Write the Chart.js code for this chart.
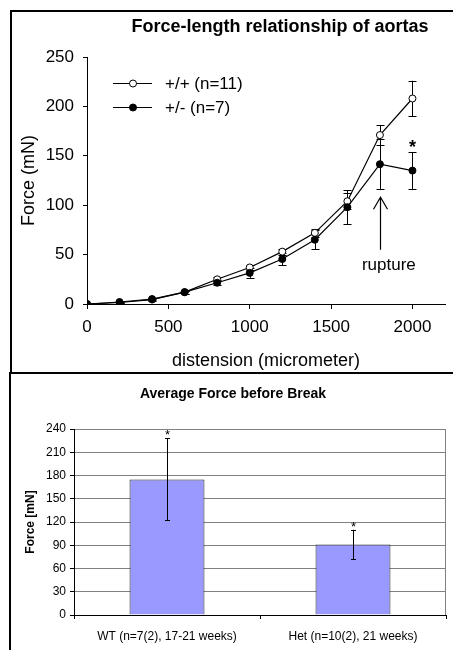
<!DOCTYPE html>
<html><head><meta charset="utf-8">
<script src="https://cdn.jsdelivr.net/npm/chart.js@4.4.1/dist/chart.umd.min.js"></script>
<style>
html,body{margin:0;padding:0;background:#fff;overflow:hidden}
#wrap{position:relative;width:453px;height:650px;overflow:hidden}
#f1{position:absolute;left:10px;top:10px;width:470px;height:360px;border:2px solid #000;border-right:none}
#f2{position:absolute;left:9px;top:372px;width:470px;height:300px;border-left:2px solid #000;border-top:2px solid #000}
#c1{position:absolute;left:0;top:0}
#c2{position:absolute;left:0;top:373px}
</style></head>
<body>
<div id="wrap">
<div id="f1"></div><div id="f2"></div>
<canvas id="c1" width="453" height="372"></canvas>
<canvas id="c2" width="453" height="277"></canvas>
</div>
<script>
// ---- Top chart data ----
const distances = [0, 200, 400, 600, 800, 1000, 1200, 1400, 1600, 1800, 2000];
const wtForce  = [0, 1.5, 4.5, 12, 25, 37, 53, 72, 104, 171, 208];
const wtErr    = [0, 0.5, 1, 1.5, 2, 2.5, 3, 4, 8, 10, 18];
const hetForce = [0, 2, 5, 12, 21.5, 31.5, 45.5, 65, 98, 141.5, 135];
const hetErr   = [0, 0.5, 1, 1.5, 2.5, 5, 6.5, 9.5, 17, 25, 18.5];
const xTickValues = [0, 500, 1000, 1500, 2000];
const wtLabel = '+/+ (n=11)';
const hetLabel = '+/- (n=7)';

// ---- Bottom chart data ----
const groups = ['WT (n=7(2), 17-21 weeks)', 'Het (n=10(2), 21 weeks)'];
const avgForce = [175, 91];
const avgErr = [53, 19];

const FA = "'Liberation Sans', Arial, Helvetica, sans-serif";

function errBars(ctx, xs, ys, xv, yv, ev, cap) {
  ctx.save();
  ctx.strokeStyle = '#000';
  ctx.lineWidth = 1;
  for (let i = 0; i < yv.length; i++) {
    if (!ev[i]) continue;
    const x = Math.round(xs(i, xv)) + 0.5;
    const yt = ys.getPixelForValue(yv[i] + ev[i]);
    const yb = ys.getPixelForValue(yv[i] - ev[i]);
    ctx.beginPath();
    ctx.moveTo(x, yt); ctx.lineTo(x, yb);
    ctx.moveTo(x - cap, Math.round(yt) + 0.5); ctx.lineTo(x + cap, Math.round(yt) + 0.5);
    ctx.moveTo(x - cap, Math.round(yb) + 0.5); ctx.lineTo(x + cap, Math.round(yb) + 0.5);
    ctx.stroke();
  }
  ctx.restore();
}

const topDecor = {
  id: 'topDecor',
  beforeDatasetsDraw(chart) {
    const xs = chart.scales.x, ys = chart.scales.y, ctx = chart.ctx;
    const px = (i, xv) => xs.getPixelForValue(xv[i]);
    errBars(ctx, px, ys, distances, wtForce, wtErr, 4);
    errBars(ctx, px, ys, distances, hetForce, hetErr, 4);
  },
  afterDatasetsDraw(chart) {
    const xs = chart.scales.x, ys = chart.scales.y, ctx = chart.ctx;
    ctx.save();
    // title
    ctx.fillStyle = '#000';
    ctx.font = 'bold 18px ' + FA;
    ctx.textAlign = 'center'; ctx.textBaseline = 'middle';
    ctx.fillText('Force-length relationship of aortas', 280, 27);
    // legend
    const items = [[wtLabel, '#fff', 83], [hetLabel, '#000', 107]];
    ctx.font = '17px ' + FA;
    ctx.textAlign = 'left';
    for (const [t, fill, y] of items) {
      ctx.strokeStyle = '#000'; ctx.lineWidth = 1;
      ctx.beginPath(); ctx.moveTo(113, y + 0.5); ctx.lineTo(152, y + 0.5); ctx.stroke();
      ctx.beginPath(); ctx.arc(133, y + 0.5, 3.5, 0, Math.PI * 2);
      ctx.fillStyle = fill; ctx.fill(); ctx.stroke();
      ctx.fillStyle = '#000';
      ctx.fillText(t, 165, y + 1);
    }
    // star over last het point
    const last = hetForce.length - 1;
    ctx.font = 'bold 18px ' + FA;
    ctx.textAlign = 'center'; ctx.textBaseline = 'alphabetic';
    ctx.fillText('*', xs.getPixelForValue(distances[last]), ys.getPixelForValue(hetForce[last] + hetErr[last]) + 1);
    // rupture arrow at 1800
    const ax = Math.round(xs.getPixelForValue(1800)) + 0.5;
    const yTop = ys.getPixelForValue(108), yBot = ys.getPixelForValue(55);
    ctx.lineWidth = 1.2;
    ctx.beginPath();
    ctx.moveTo(ax, yTop); ctx.lineTo(ax, yBot);
    ctx.moveTo(ax - 7, yTop + 12); ctx.lineTo(ax, yTop); ctx.lineTo(ax + 7, yTop + 12);
    ctx.stroke();
    ctx.font = '17px ' + FA;
    ctx.textBaseline = 'middle';
    ctx.fillText('rupture', xs.getPixelForValue(1855), ys.getPixelForValue(39));
    ctx.restore();
  }
};

new Chart(document.getElementById('c1'), {
  type: 'line',
  data: {
    datasets: [
      { label: hetLabel, data: distances.map((d, i) => ({ x: d, y: hetForce[i] })),
        borderColor: '#000', borderWidth: 1.2, pointRadius: 3.5, pointBackgroundColor: '#000',
        pointBorderColor: '#000', pointBorderWidth: 1, tension: 0 },
      { label: wtLabel, data: distances.map((d, i) => ({ x: d, y: wtForce[i] })),
        borderColor: '#000', borderWidth: 1.2, pointRadius: 3.5, pointBackgroundColor: '#fff',
        pointBorderColor: '#000', pointBorderWidth: 1, tension: 0 }
    ]
  },
  options: {
    responsive: false, animation: false, devicePixelRatio: 1,
    layout: { padding: { left: 0, right: 8, top: 57, bottom: 0 } },
    plugins: { legend: { display: false }, tooltip: { enabled: false } },
    scales: {
      x: {
        type: 'linear', min: 0, max: 2200,
        afterBuildTicks: s => { s.ticks = xTickValues.map(v => ({ value: v })); },
        afterFit: s => { s.height = 68; },
        grid: { drawOnChartArea: false, drawTicks: true, tickLength: 5, color: '#000', tickColor: '#000' },
        border: { color: '#000', width: 1 },
        ticks: { font: { family: FA, size: 17 }, color: '#000', padding: 8, maxRotation: 0, autoSkip: false,
          callback: v => String(v) },
        title: { display: true, text: 'distension (micrometer)', font: { family: FA, size: 18 }, color: '#000', padding: { top: 0, bottom: 0 } }
      },
      y: {
        min: 0, max: 250,
        afterFit: s => { s.width = 87; },
        grid: { drawOnChartArea: false, drawTicks: true, tickLength: 4, color: '#000', tickColor: '#000' },
        border: { color: '#000', width: 1 },
        ticks: { stepSize: 50, font: { family: FA, size: 17 }, color: '#000', padding: 9, callback: v => String(v) },
        title: { display: true, text: 'Force (mN)', font: { family: FA, size: 18 }, color: '#000', padding: { top: 18, bottom: 0 } }
      }
    }
  },
  plugins: [topDecor]
});

const botDecor = {
  id: 'botDecor',
  beforeDatasetsDraw(chart) {
    const ca = chart.chartArea, ctx = chart.ctx;
    ctx.save();
    ctx.strokeStyle = '#808080'; ctx.lineWidth = 1;
    ctx.beginPath();
    ctx.moveTo(Math.round(ca.right) - 0.5, ca.top); ctx.lineTo(Math.round(ca.right) - 0.5, ca.bottom);
    ctx.stroke();
    ctx.restore();
  },
  afterDatasetsDraw(chart) {
    const xs = chart.scales.x, ys = chart.scales.y, ctx = chart.ctx;
    const px = (i) => xs.getPixelForValue(i);
    errBars(ctx, px, ys, null, avgForce, avgErr, 2.5);
    ctx.save();
    ctx.fillStyle = '#000';
    ctx.font = 'bold 14px ' + FA;
    ctx.textAlign = 'center'; ctx.textBaseline = 'middle';
    ctx.fillText('Average Force before Break', 233, 21);
    ctx.font = '13px ' + FA;
    ctx.textBaseline = 'alphabetic';
    for (let i = 0; i < avgForce.length; i++) {
      ctx.fillText('*', px(i) + 0.5, ys.getPixelForValue(avgForce[i] + avgErr[i]) + 1);
    }
    ctx.restore();
  }
};

new Chart(document.getElementById('c2'), {
  type: 'bar',
  data: {
    labels: groups,
    datasets: [{ data: avgForce, backgroundColor: '#9999ff', borderColor: '#222', borderWidth: 1,
      categoryPercentage: 1, barPercentage: 0.403 }]
  },
  options: {
    responsive: false, animation: false, devicePixelRatio: 1,
    layout: { padding: { left: 0, right: 7, top: 56, bottom: 0 } },
    plugins: { legend: { display: false }, tooltip: { enabled: false } },
    scales: {
      x: {
        afterFit: s => { s.height = 35; },
        grid: { offset: true, drawOnChartArea: false, drawTicks: true, tickLength: 4, color: '#000', tickColor: '#000' },
        border: { color: '#000', width: 1 },
        ticks: { font: { family: FA, size: 12 }, color: '#000', padding: 10, maxRotation: 0, autoSkip: false }
      },
      y: {
        min: 0, max: 240,
        afterFit: s => { s.width = 74; },
        grid: { color: '#808080', tickColor: '#000', drawTicks: true, tickLength: 4 },
        border: { color: '#000', width: 1 },
        ticks: { stepSize: 30, font: { family: FA, size: 12 }, color: '#000', padding: 4 },
        title: { display: true, text: 'Force [mN]', font: { family: FA, size: 12, weight: 'bold' }, color: '#000', padding: { top: 23, bottom: 0 } }
      }
    }
  },
  plugins: [botDecor]
});
</script>
</body></html>
